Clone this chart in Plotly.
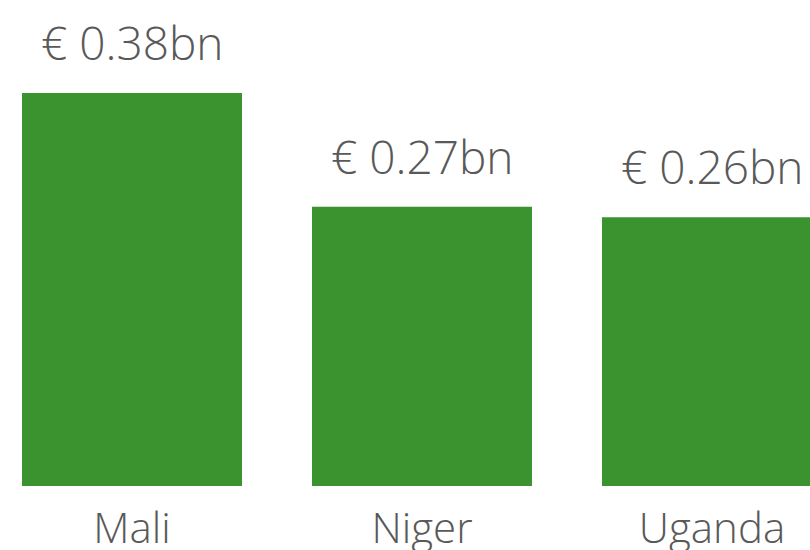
import plotly.graph_objects as go

countries = ["Mali", "Niger", "Uganda"]
values = [0.38, 0.27, 0.26]
labels = ["€ 0.38bn", "€ 0.27bn", "€ 0.26bn"]

fig = go.Figure()
fig.add_trace(go.Bar(
    x=countries, y=values,
    marker=dict(color="#3A932F", line=dict(width=0)),
    width=0.7586,
    hoverinfo="skip",
))
for c, v, t in zip(countries, values, labels):
    fig.add_annotation(x=c, y=v, text=t, showarrow=False, yanchor="bottom",
                       yshift=18, font=dict(family="Open Sans", size=46, color="#595959", weight=350))

fig.update_layout(
    width=810, height=550,
    margin=dict(l=0, r=0, t=0, b=64, autoexpand=False),
    paper_bgcolor="white", plot_bgcolor="white",
    showlegend=False,
    xaxis=dict(range=[-0.4552, 2.338], showgrid=False, zeroline=False, showline=False,
               automargin=False, fixedrange=True,
               ticks="", tickfont=dict(family="Open Sans", size=42, color="#595959", weight=350),
               ticklabelstandoff=14),
    yaxis=dict(range=[0, 0.470], visible=False, automargin=False, fixedrange=True),
)
fig.write_html("out.html", config={"displayModeBar": False},
               post_script="document.body.style.margin='0';document.body.style.overflow='hidden';")
